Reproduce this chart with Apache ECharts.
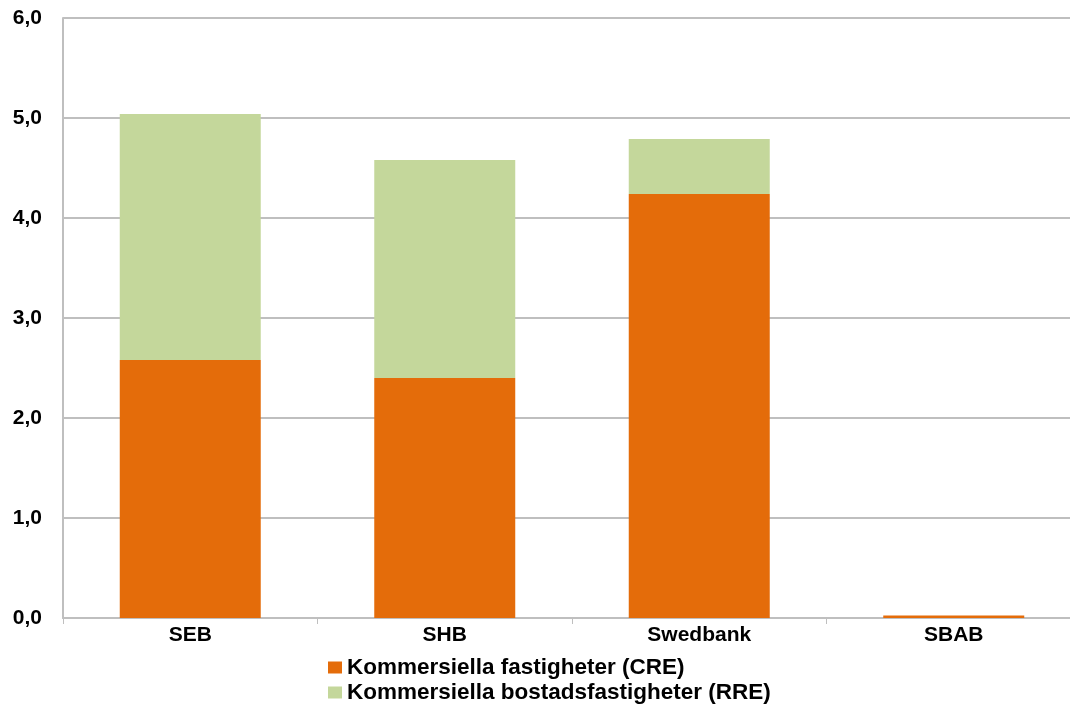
<!DOCTYPE html>
<html>
<head>
<meta charset="utf-8">
<script src="https://cdn.jsdelivr.net/npm/echarts@6/dist/echarts.min.js"></script>
<style>
html,body{margin:0;padding:0;background:#fff;overflow:hidden;width:1070px;height:704px;}
#chart{width:1081px;height:704px;}
</style>
</head>
<body>
<div id="chart"></div>
<script>
var categories = ['SEB', 'SHB', 'Swedbank', 'SBAB'];
var creValues = [2.58, 2.40, 4.24, 0.025];
var rreValues = [2.46, 2.18, 0.55, 0];
var seriesNames = ['Kommersiella fastigheter (CRE)', 'Kommersiella bostadsfastigheter (RRE)'];
var yTicks = { min: 0, max: 6, interval: 1 };

var chart = echarts.init(document.getElementById('chart'));
var font = '"Liberation Sans", Arial, sans-serif';
var legendText = { fontFamily: font, fontSize: 22.5, fontWeight: 'bold', color: '#000' };
chart.setOption({
  animation: false,
  grid: { left: 63, top: 18, right: 0, height: 600, containLabel: false },
  legend: [
    { left: 323, top: 651, itemWidth: 14, itemHeight: 12, itemGap: 7, icon: 'rect',
      textStyle: legendText, data: [seriesNames[0]] },
    { left: 323, top: 676, itemWidth: 14, itemHeight: 12, itemGap: 7, icon: 'rect',
      textStyle: legendText, data: [seriesNames[1]] }
  ],
  xAxis: {
    type: 'category',
    data: categories,
    axisLine: { lineStyle: { color: '#bfbfbf', width: 2 } },
    axisTick: { show: true, length: 6, lineStyle: { color: '#bfbfbf', width: 1 } },
    axisLabel: { fontFamily: font, fontSize: 21, fontWeight: 'bold', color: '#000', margin: 7 }
  },
  yAxis: {
    type: 'value',
    min: yTicks.min,
    max: yTicks.max,
    interval: yTicks.interval,
    axisLine: { show: true, lineStyle: { color: '#bfbfbf', width: 2 } },
    axisTick: { show: false },
    splitLine: { lineStyle: { color: '#bfbfbf', width: 2 } },
    axisLabel: {
      fontFamily: font, fontSize: 21, fontWeight: 'bold', color: '#000', margin: 21,
      formatter: function (v) { return v.toFixed(1).replace('.', ','); }
    }
  },
  series: [
    {
      name: seriesNames[0], type: 'bar', stack: 'a', data: creValues,
      barWidth: '55.4%',
      itemStyle: { color: '#e46c0a' }
    },
    {
      name: seriesNames[1], type: 'bar', stack: 'a', data: rreValues,
      barWidth: '55.4%',
      itemStyle: { color: '#c4d79b' }
    }
  ]
});
</script>
</body>
</html>
